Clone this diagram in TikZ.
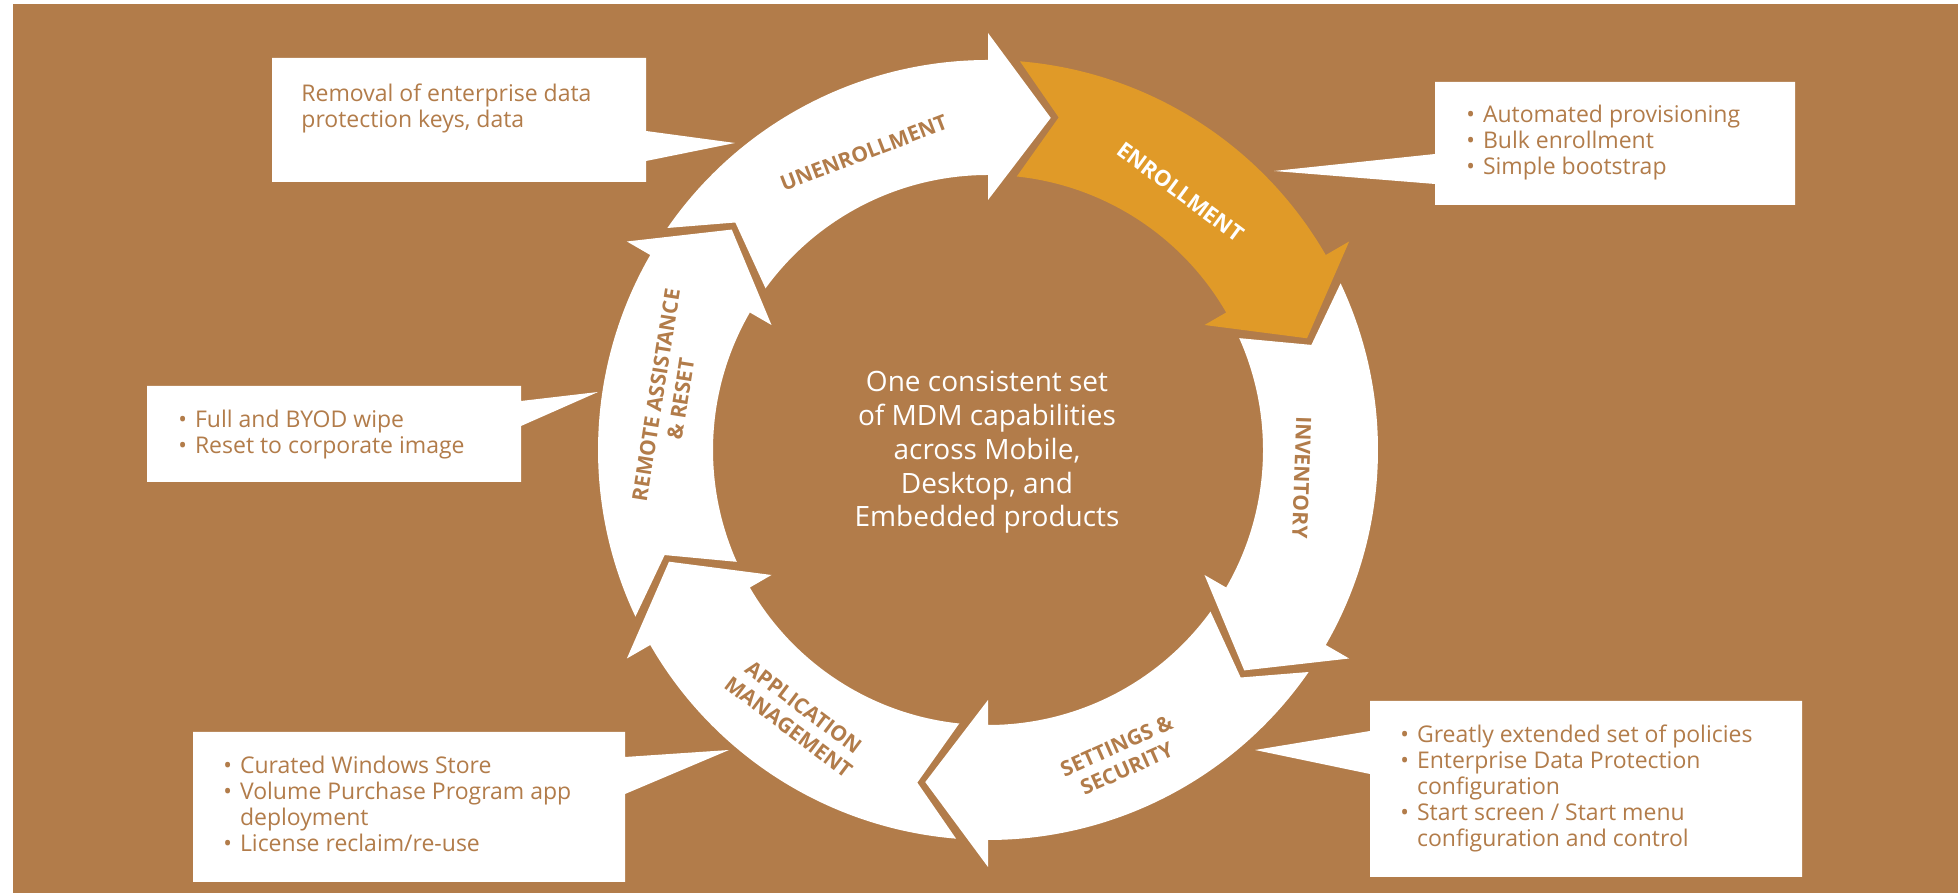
\documentclass[tikz,border=0pt]{standalone}
\usepackage{fontspec}
\setmainfont{Open Sans}
\definecolor{mdmbrown}{HTML}{B27C4A}
\definecolor{mdmorange}{HTML}{E09A28}
\newcommand{\ringarrow}[2]{%
  \fill[#2] ({#1+55.3}:390) arc[start angle={#1+55.3}, end angle=#1, radius=390]
    -- (#1:417) -- ({#1-10.7}:338) -- (#1:250) -- (#1:275)
    arc[start angle=#1, end angle={#1+54}, radius=275]
    -- ({#1+48}:340) -- cycle;}
\tikzset{
  phase/.style={font=\bfseries\fontsize{10.5}{12.5}\selectfont, text=mdmbrown, align=center, inner sep=0},
  notetext/.style={anchor=base west, inner sep=0, text=mdmbrown, font=\fontsize{11.5}{13}\selectfont},
  notebox/.style={fill=white}
}
\begin{document}
\begin{tikzpicture}[x=0.5pt, y=0.5pt]
        \useasboundingbox (0,0) rectangle (1958,893);
        \fill[white] (0,0) rectangle (1958,893);
        \fill[mdmbrown] (13,0) rectangle (1958,889);
        \fill[notebox] (272,835) -- (646,835) -- (646,762) -- (735,750) -- (646,732) -- (646,711) -- (272,711) -- cycle;
        \fill[notebox] (1435,811) -- (1795,811) -- (1795,688) -- (1435,688) -- (1435,709) -- (1274,722) -- (1435,739) -- cycle;
        \fill[notebox] (147,507) -- (521,507) -- (521,492) -- (598,501) -- (521,467) -- (521,411) -- (147,411) -- cycle;
        \fill[notebox] (193,161) -- (625,161) -- (625,136) -- (729,143) -- (625,99) -- (625,11) -- (193,11) -- cycle;
        \fill[notebox] (1370,192) -- (1802,192) -- (1802,16) -- (1370,16) -- (1370,119) -- (1255,143) -- (1370,162) -- cycle;
        \node[notetext] (removal) at (301,791) {\begin{tabular}[t]{@{}l@{}}Removal of enterprise data\\ protection keys, data\end{tabular}};
        \node[notetext] (enrollnote) at (1466,770) {\begin{tabular}[t]{@{}l@{\hspace{4pt}}l@{}}\textbullet & Automated provisioning\\ \textbullet & Bulk enrollment\\ \textbullet & Simple bootstrap\end{tabular}};
        \node[notetext] (wipenote) at (178,465) {\begin{tabular}[t]{@{}l@{\hspace{4pt}}l@{}}\textbullet & Full and BYOD wipe\\ \textbullet & Reset to corporate image\end{tabular}};
        \node[notetext] (appnote) at (223,119) {\begin{tabular}[t]{@{}l@{\hspace{4pt}}l@{}}\textbullet & Curated Windows Store\\ \textbullet & Volume Purchase Program app\\ & deployment\\ \textbullet & License reclaim/re-use\end{tabular}};
        \node[notetext] (policynote) at (1400,150) {\begin{tabular}[t]{@{}l@{\hspace{4pt}}l@{}}\textbullet & Greatly extended set of policies\\ \textbullet & Enterprise Data Protection\\ & configuration\\ \textbullet & Start screen / Start menu\\ & configuration and control\end{tabular}};
        \begin{scope}[shift={(988,443)}]
        \ringarrow{90}{white}
        \ringarrow{30}{mdmorange}
        \ringarrow{-30}{white}
        \ringarrow{-90}{white}
        \ringarrow{-150}{white}
        \ringarrow{150}{white}
        \node[phase, rotate=21] (unenroll) at (112.7:322) {UNENROLLMENT};
        \node[phase, rotate=-36.5, text=white, font=\bfseries\fontsize{11}{12.5}\selectfont] (enroll) at (53.3:322) {ENROLLMENT};
        \node[phase, rotate=-92] (inventory) at (-5:315) {INVENTORY};
        \node[phase, rotate=24] (settings) at (-66.5:335) {SETTINGS \&\\ SECURITY};
        \node[phase, rotate=-37] (appmgmt) at (-125.7:329) {APPLICATION\\ MANAGEMENT};
        \node[phase, rotate=81] (remote) at (170.6:324) {REMOTE ASSISTANCE\\ \& RESET};
        \end{scope}
        \node[text=white, font=\fontsize{14}{16.85}\selectfont, anchor=base, inner sep=0] (core) at (987,501) {\begin{tabular}[t]{@{}c@{}}One consistent set\\ of MDM capabilities\\ across Mobile,\\ Desktop, and\\ Embedded products\end{tabular}};
\end{tikzpicture}
\end{document}
